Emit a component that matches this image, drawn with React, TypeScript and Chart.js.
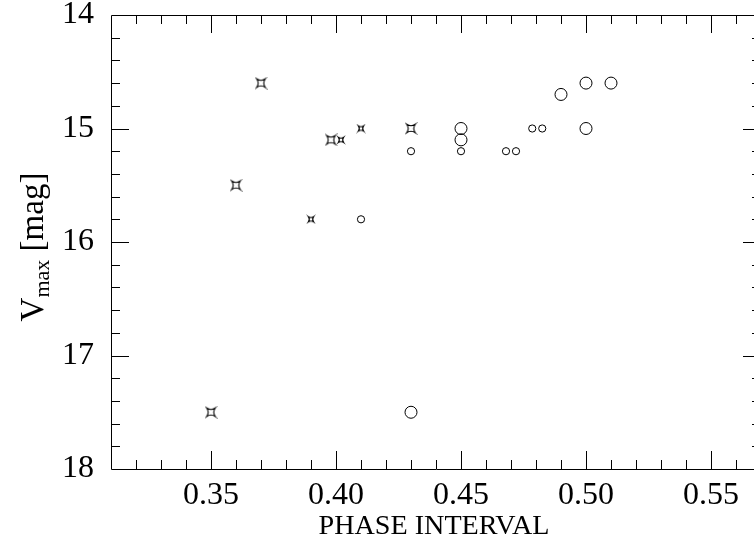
import React, { useEffect, useRef } from 'react';
import { Chart, registerables } from 'chart.js';
Chart.register(...registerables);

// ---- data ----
const bigStarX = [0.35, 0.36, 0.37, 0.398, 0.43];
const bigStarY = [17.5, 15.5, 14.6, 15.1, 15.0];
const smallStarX = [0.39, 0.402, 0.41];
const smallStarY = [15.8, 15.1, 15.0];
const smallCircleX = [0.41, 0.43, 0.45, 0.468, 0.472, 0.4785, 0.4825];
const smallCircleY = [15.8, 15.2, 15.2, 15.2, 15.2, 15.0, 15.0];
const bigCircleX = [0.43, 0.45, 0.45, 0.49, 0.5, 0.51, 0.5];
const bigCircleY = [17.5, 15.0, 15.1, 14.7, 14.6, 14.6, 15.0];

const xTickValues = [0.35, 0.4, 0.45, 0.5, 0.55];
const xTickLabels = ['0.35', '0.40', '0.45', '0.50', '0.55'];
const yTickValues = [14, 15, 16, 17, 18];
const yTickLabels = ['14', '15', '16', '17', '18'];

const X_MIN = 0.31;
const X_MAX = 0.57;
const Y_MIN = 14;
const Y_MAX = 18;

const FONT = "'Liberation Serif', 'DejaVu Serif', serif";

function makeStar(s: number): HTMLCanvasElement {
  const pad = 2;
  const size = Math.ceil(2 * s + 2 * pad);
  const c = document.createElement('canvas');
  c.width = size;
  c.height = size;
  const ctx = c.getContext('2d')!;
  ctx.translate(size / 2, size / 2);
  ctx.strokeStyle = '#000';
  ctx.lineWidth = 1.1;
  const k = s * 0.3;
  ctx.beginPath();
  ctx.moveTo(-s, -s);
  ctx.quadraticCurveTo(0, -k, s, -s);
  ctx.quadraticCurveTo(k, 0, s, s);
  ctx.quadraticCurveTo(0, k, -s, s);
  ctx.quadraticCurveTo(-k, 0, -s, -s);
  ctx.closePath();
  ctx.stroke();
  return c;
}

const framePlugin = {
  id: 'framePlugin',
  afterDraw(chart: any) {
    const { ctx, chartArea } = chart;
    const xs = chart.scales.x;
    const ys = chart.scales.y;
    const L = chartArea.left, R = chartArea.right, T = chartArea.top, B = chartArea.bottom;
    ctx.save();
    ctx.strokeStyle = '#000';
    ctx.lineWidth = 1;
    ctx.beginPath();
    ctx.rect(Math.round(L) + 0.5, Math.round(T) + 0.5, Math.round(R - L), Math.round(B - T));
    ctx.stroke();

    // x ticks (minor every 0.01, major every 0.05)
    ctx.beginPath();
    for (let i = 32; i <= 56; i++) {
      const v = i / 100;
      const px = Math.round(xs.getPixelForValue(v)) + 0.5;
      const major = i % 5 === 0;
      const len = major ? 18 : 9;
      ctx.moveTo(px, B);
      ctx.lineTo(px, B - len);
      ctx.moveTo(px, T);
      ctx.lineTo(px, T + len);
    }
    // y ticks (minor every 0.2, major every 1)
    for (let i = 71; i <= 89; i++) {
      const v = i / 5;
      const py = Math.round(ys.getPixelForValue(v)) + 0.5;
      const major = i % 5 === 0;
      const len = major ? 18 : 9;
      ctx.moveTo(L, py);
      ctx.lineTo(L + len, py);
      ctx.moveTo(R, py);
      ctx.lineTo(R - len, py);
    }
    ctx.stroke();

    // x title
    ctx.fillStyle = '#000';
    ctx.save();
    ctx.font = `28px ${FONT}`;
    ctx.textAlign = 'center';
    ctx.textBaseline = 'alphabetic';
    const tw = ctx.measureText('PHASE INTERVAL').width;
    const sx = 231 / tw;
    ctx.translate(434, 534);
    ctx.scale(sx, 1);
    ctx.fillText('PHASE INTERVAL', 0, 0);
    ctx.restore();

    // y title (rotated) V_max [mag]
    ctx.translate(43, 247);
    ctx.rotate(-Math.PI / 2);
    ctx.textAlign = 'left';
    ctx.textBaseline = 'alphabetic';
    const bigFont = `33px ${FONT}`;
    const subFont = `22px ${FONT}`;
    ctx.font = bigFont;
    const wV = ctx.measureText('V').width;
    const wRest = ctx.measureText(' [mag]').width;
    ctx.font = subFont;
    const wSub = ctx.measureText('max').width;
    const total = wV + wSub + wRest;
    let x0 = -total / 2;
    ctx.font = bigFont;
    ctx.fillText('V', x0, 0);
    x0 += wV;
    ctx.font = subFont;
    ctx.fillText('max', x0, 6);
    x0 += wSub;
    ctx.font = bigFont;
    ctx.fillText(' [mag]', x0, 0);
    ctx.restore();
  },
};

export default function App() {
  const ref = useRef<HTMLCanvasElement | null>(null);
  useEffect(() => {
    if (!ref.current) return;
    const bigStar = makeStar(4.3);
    const smallStar = makeStar(2.6);
    const toPts = (xs: number[], ys: number[]) => xs.map((x, i) => ({ x, y: ys[i] }));
    const chart = new Chart(ref.current, {
      type: 'scatter',
      data: {
        datasets: [
          {
            data: toPts(bigStarX, bigStarY),
            pointStyle: bigStar as any,
            pointRadius: 4,
          },
          {
            data: toPts(smallStarX, smallStarY),
            pointStyle: smallStar as any,
            pointRadius: 3,
          },
          {
            data: toPts(smallCircleX, smallCircleY),
            pointStyle: 'circle',
            pointRadius: 3.6,
            borderColor: '#000',
            borderWidth: 1,
            backgroundColor: 'rgba(0,0,0,0)',
          },
          {
            data: toPts(bigCircleX, bigCircleY),
            pointStyle: 'circle',
            pointRadius: 6,
            borderColor: '#000',
            borderWidth: 1,
            backgroundColor: 'rgba(0,0,0,0)',
          },
        ],
      },
      options: {
        responsive: false,
        animation: false,
        events: [],
        layout: { padding: { top: 15, right: 7, left: 0, bottom: 0 } },
        plugins: { legend: { display: false }, tooltip: { enabled: false } },
        scales: {
          x: {
            type: 'linear',
            min: X_MIN,
            max: X_MAX,
            grid: { display: false, drawTicks: false },
            border: { display: false },
            ticks: {
              color: '#000',
              font: { family: FONT, size: 32 },
              padding: 7,
              autoSkip: false,
              maxRotation: 0,
              callback: (v: any) => {
                const i = xTickValues.findIndex((t) => Math.abs(t - v) < 1e-9);
                return i >= 0 ? xTickLabels[i] : '';
              },
            },
            afterBuildTicks: (s: any) => {
              s.ticks = xTickValues.map((v) => ({ value: v }));
            },
            afterFit: (s: any) => {
              s.height = 72;
              s.paddingLeft = 0;
              s.paddingRight = 0;
            },
          },
          y: {
            type: 'linear',
            reverse: true,
            min: Y_MIN,
            max: Y_MAX,
            grid: { display: false, drawTicks: false },
            border: { display: false },
            ticks: {
              color: '#000',
              font: { family: FONT, size: 32 },
              padding: 17,
              autoSkip: false,
              callback: (v: any) => {
                const i = yTickValues.findIndex((t) => Math.abs(t - v) < 1e-9);
                return i >= 0 ? yTickLabels[i] : '';
              },
            },
            afterBuildTicks: (s: any) => {
              s.ticks = yTickValues.map((v) => ({ value: v }));
            },
            afterFit: (s: any) => {
              s.width = 111;
              s.paddingTop = 0;
              s.paddingBottom = 0;
            },
          },
        },
      },
      plugins: [framePlugin],
    });
    return () => chart.destroy();
  }, []);
  return (
    <div
      style={{
        position: 'fixed',
        left: 0,
        top: 0,
        width: 754,
        height: 541,
        overflow: 'hidden',
        background: '#fff',
      }}
    >
      <canvas ref={ref} width={768} height={541} style={{ display: 'block', width: 768, height: 541 }} />
    </div>
  );
}
